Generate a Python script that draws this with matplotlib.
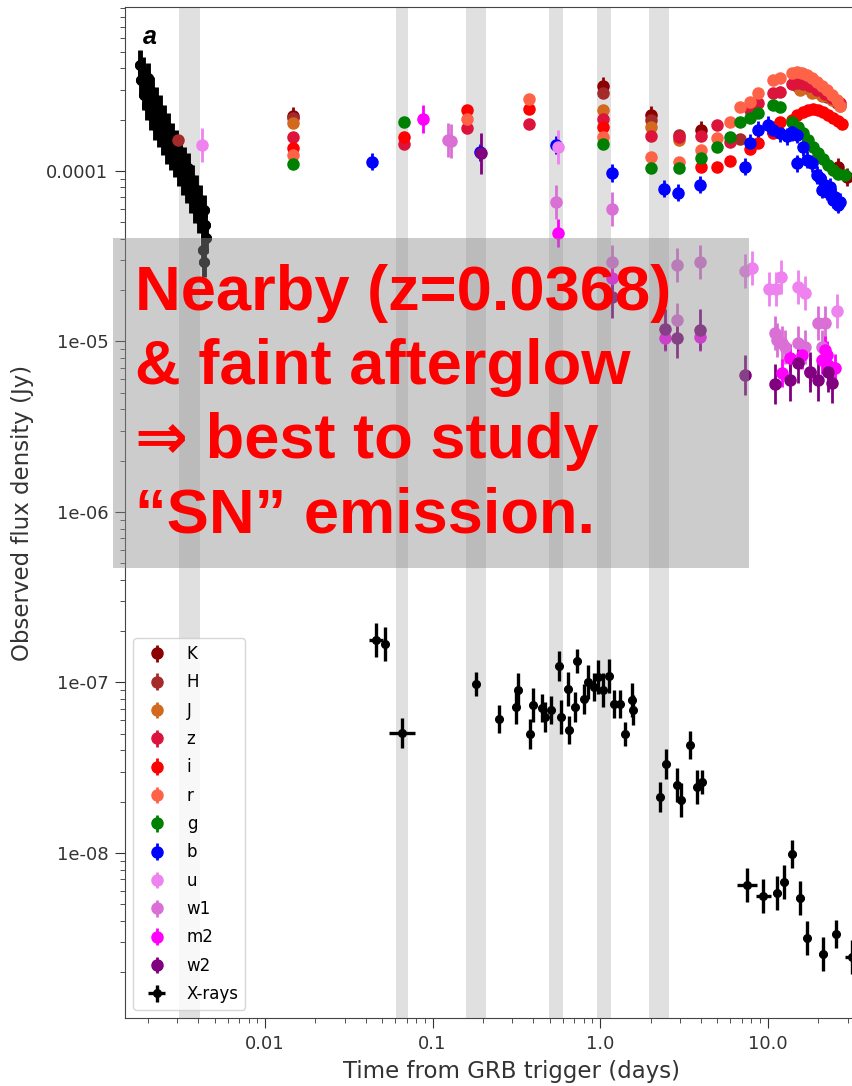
import numpy as np
import matplotlib.pyplot as plt
from matplotlib.patches import Rectangle
from matplotlib.ticker import FuncFormatter

# X-ray light curve: dense early part (first ~0.005 d)
xrt_early_t = [0.00179, 0.00182, 0.00187, 0.00190, 0.00195, 0.00198, 0.00200, 0.00206, 0.00209,
               0.00212, 0.00218, 0.00221, 0.00224, 0.00230, 0.00233, 0.00236, 0.00243, 0.00246,
               0.00250, 0.00257, 0.00260, 0.00264, 0.00271, 0.00275, 0.00279, 0.00286, 0.00290,
               0.00294, 0.00302, 0.00307, 0.00311, 0.00320, 0.00324, 0.00328, 0.00338, 0.00342,
               0.00347, 0.00357, 0.00362, 0.00367, 0.00377, 0.00382, 0.00387, 0.00398, 0.00404,
               0.00409, 0.00421, 0.00426, 0.00432, 0.00438, 0.00444, 0.00426, 0.00432]
xrt_early_f = [4.18e-4, 3.42e-4, 3.81e-4, 2.79e-4, 3.07e-4, 2.44e-4, 3.51e-4, 2.61e-4, 2.13e-4,
               2.91e-4, 2.28e-4, 1.86e-4, 2.54e-4, 2.05e-4, 1.69e-4, 2.28e-4, 1.79e-4, 1.52e-4,
               1.99e-4, 1.63e-4, 1.36e-4, 1.79e-4, 1.42e-4, 1.24e-4, 1.56e-4, 1.33e-4, 1.13e-4,
               1.42e-4, 1.16e-4, 1.01e-4, 1.29e-4, 1.04e-4, 8.86e-5, 1.13e-4, 9.47e-5, 7.95e-5,
               1.04e-4, 8.28e-5, 6.94e-5, 8.86e-5, 7.23e-5, 6.07e-5, 7.74e-5, 6.32e-5, 5.30e-5,
               6.76e-5, 5.52e-5, 4.63e-5, 5.90e-5, 4.82e-5, 4.05e-5, 3.44e-5, 2.93e-5]

# X-ray light curve: later part (errors in dex)
xrt_late_t = [0.0460, 0.0520, 0.0657, 0.1818, 0.2494, 0.3151, 0.3239, 0.3821, 0.3981, 0.4505,
              0.4694, 0.5099, 0.5690, 0.5850, 0.6442, 0.6531, 0.7091, 0.7289, 0.8027, 0.8481,
              0.9208, 0.9729, 1.042, 1.132, 1.212, 1.316, 1.410, 1.553, 1.574, 2.281,
              2.478, 2.883, 3.045, 3.446, 3.795, 4.064, 7.546, 9.400, 11.40, 12.55,
              14.01, 15.63, 17.21, 21.45, 25.64, 31.96]
xrt_late_f = [1.78e-7, 1.68e-7, 5.06e-8, 9.80e-8, 6.11e-8, 7.18e-8, 9.04e-8, 4.99e-8, 7.38e-8, 7.09e-8,
              6.27e-8, 6.90e-8, 1.25e-7, 6.27e-8, 9.16e-8, 5.26e-8, 7.18e-8, 1.34e-7, 8.00e-8, 1.01e-7,
              9.41e-8, 1.08e-7, 9.04e-8, 1.09e-7, 7.48e-8, 7.48e-8, 4.99e-8, 7.89e-8, 6.90e-8, 2.13e-8,
              3.33e-8, 2.50e-8, 2.05e-8, 4.30e-8, 2.44e-8, 2.61e-8, 6.49e-9, 5.59e-9, 5.83e-9, 6.76e-9,
              9.87e-9, 5.45e-9, 3.17e-9, 2.56e-9, 3.35e-9, 2.45e-9]
xrt_late_ferr = [0.10, 0.10, 0.09, 0.07, 0.08, 0.10, 0.10, 0.09, 0.10, 0.08,
                 0.09, 0.08, 0.09, 0.10, 0.10, 0.08, 0.09, 0.07, 0.09, 0.10,
                 0.08, 0.10, 0.10, 0.10, 0.08, 0.08, 0.07, 0.10, 0.09, 0.09,
                 0.09, 0.10, 0.10, 0.08, 0.10, 0.07, 0.10, 0.10, 0.10, 0.10,
                 0.08, 0.10, 0.10, 0.10, 0.08, 0.10]
xrt_late_terr = [0.04, 0.012, 0.075, 0.012, 0.012, 0.012, 0.012, 0.012, 0.012, 0.012,
                 0.012, 0.012, 0.012, 0.012, 0.012, 0.012, 0.012, 0.012, 0.012, 0.012,
                 0.012, 0.012, 0.012, 0.012, 0.012, 0.012, 0.012, 0.012, 0.012, 0.012,
                 0.012, 0.012, 0.012, 0.012, 0.012, 0.012, 0.06, 0.045, 0.025, 0.02,
                 0.02, 0.025, 0.02, 0.025, 0.02, 0.045]

# UVOT / optical / NIR photometry
K_t = [0.0147, 1.042, 2.016, 4.009, 26.36, 29.83]
K_f = [2.10e-4, 3.15e-4, 2.13e-4, 1.74e-4, 1.06e-4, 9.22e-5]

H_t = [0.00302, 0.0147, 1.042, 2.016, 2.962, 6.853, 15.01, 17.21, 19.74, 22.66, 26.00]
H_f = [1.52e-4, 2.05e-4, 2.87e-4, 1.99e-4, 1.63e-4, 1.54e-4, 3.15e-4, 3.07e-4, 2.91e-4, 2.72e-4, 2.51e-4]

J_t = [0.0147, 1.042, 2.016, 2.962, 15.63, 18.44, 21.15, 24.27, 27.09]
J_f = [1.91e-4, 2.28e-4, 1.81e-4, 1.52e-4, 2.99e-4, 2.87e-4, 2.75e-4, 2.61e-4, 2.41e-4]

z_t = [0.0147, 0.0676, 0.1607, 0.3769, 1.042, 2.016, 2.962, 4.009, 4.994, 5.972, 7.864,
       8.776, 10.79, 11.87, 14.01, 15.01, 16.29, 17.93, 19.74, 22.04, 24.27, 27.09]
z_f = [1.58e-4, 1.44e-4, 1.79e-4, 1.89e-4, 2.02e-4, 1.60e-4, 1.58e-4, 1.60e-4, 1.86e-4, 1.48e-4, 2.28e-4,
       2.51e-4, 2.87e-4, 2.92e-4, 3.24e-4, 3.28e-4, 3.24e-4, 3.15e-4, 2.99e-4, 2.83e-4, 2.68e-4, 2.51e-4]

i_t = [0.0147, 0.0676, 0.1607, 0.3769, 1.042, 4.009, 4.994, 5.972, 7.864, 8.776, 10.79, 11.87,
       14.01, 15.01, 16.29, 17.45, 18.69, 20.02, 21.45, 22.97, 24.60, 26.36, 27.85]
i_f = [1.36e-4, 1.58e-4, 2.28e-4, 2.31e-4, 1.81e-4, 1.06e-4, 1.06e-4, 1.14e-4, 1.35e-4, 1.46e-4, 1.67e-4, 1.94e-4,
       1.99e-4, 2.13e-4, 2.22e-4, 2.28e-4, 2.31e-4, 2.28e-4, 2.22e-4, 2.13e-4, 2.05e-4, 1.96e-4, 1.89e-4]

r_t = [0.0147, 0.1607, 0.3769, 1.042, 2.016, 2.962, 4.009, 4.994, 5.972, 6.853, 7.864, 8.776, 10.79,
       11.87, 14.01, 15.01, 16.07, 17.21, 18.44, 19.74, 21.15, 22.66, 24.27, 26.00, 27.09]
r_f = [1.24e-4, 2.02e-4, 2.64e-4, 1.58e-4, 1.21e-4, 1.13e-4, 1.33e-4, 1.56e-4, 1.94e-4, 2.37e-4, 2.54e-4, 2.87e-4, 3.42e-4,
       3.51e-4, 3.77e-4, 3.81e-4, 3.77e-4, 3.66e-4, 3.51e-4, 3.33e-4, 3.15e-4, 2.99e-4, 2.79e-4, 2.61e-4, 2.41e-4]

g_t = [0.0147, 0.0676, 1.042, 2.016, 2.962, 4.009, 4.994, 5.972, 6.853, 7.864, 8.776, 10.79,
       11.87, 14.01, 15.21, 16.29, 17.45, 18.69, 20.02, 21.45, 22.97, 24.60, 26.36, 29.02]
g_f = [1.10e-4, 1.94e-4, 1.44e-4, 1.04e-4, 1.04e-4, 1.19e-4, 1.38e-4, 1.58e-4, 1.94e-4, 2.05e-4, 2.19e-4, 2.44e-4,
       2.37e-4, 1.94e-4, 1.81e-4, 1.67e-4, 1.52e-4, 1.38e-4, 1.28e-4, 1.18e-4, 1.08e-4, 1.01e-4, 9.60e-5, 9.47e-5]

b_t = [0.0435, 0.1921, 0.546, 1.179, 2.411, 2.922, 3.954, 7.340, 7.864, 8.776, 10.07, 10.79, 11.87,
       13.07, 14.01, 15.01, 15.01, 16.29, 17.21, 18.44, 19.74, 20.58, 21.15, 22.04, 22.66, 23.61,
       24.60, 25.29, 26.36, 27.09]
b_f = [1.13e-4, 1.29e-4, 1.42e-4, 9.73e-5, 7.85e-5, 7.43e-5, 8.28e-5, 1.06e-4, 1.46e-4, 1.74e-4, 1.86e-4, 1.74e-4, 1.67e-4,
       1.60e-4, 1.69e-4, 1.63e-4, 1.11e-4, 1.38e-4, 1.16e-4, 1.11e-4, 9.47e-5, 9.10e-5, 7.74e-5, 8.28e-5, 7.53e-5, 8.06e-5,
       6.76e-5, 7.04e-5, 6.32e-5, 6.58e-5]

u_t = [0.00421, 0.5615, 7.340, 8.083, 10.21, 11.24, 12.04, 15.21, 16.75, 26.00]
u_f = [1.42e-4, 1.38e-4, 2.59e-5, 2.70e-5, 2.03e-5, 2.03e-5, 2.39e-5, 2.09e-5, 1.93e-5, 1.51e-5]

w1_t = [0.1238, 0.1280, 0.5462, 1.179, 1.179, 2.883, 3.954, 2.883, 11.09, 11.39, 12.21, 12.72,
        15.21, 16.75, 20.02, 21.15, 22.04]
w1_f = [1.52e-4, 1.50e-4, 6.58e-5, 5.99e-5, 2.93e-5, 2.81e-5, 2.93e-5, 1.34e-5, 1.12e-5, 1.02e-5, 9.80e-6, 9.29e-6,
        9.80e-6, 9.29e-6, 1.28e-5, 9.29e-6, 1.28e-5]

m2_t = [0.0878, 0.5615, 1.179, 2.444, 3.954, 12.21, 13.62, 16.07, 17.93, 21.15, 22.04, 22.66, 22.97, 25.29]
m2_f = [2.02e-4, 4.33e-5, 2.36e-5, 1.05e-5, 1.06e-5, 6.53e-6, 8.00e-6, 8.33e-6, 6.62e-6, 7.79e-6, 8.92e-6,
        8.33e-6, 7.28e-6, 6.99e-6]

w2_t = [0.1950, 1.179, 2.444, 2.883, 3.954, 7.340, 11.09, 13.62, 15.21, 17.93, 20.02, 22.97, 24.27]
w2_f = [1.27e-4, 1.82e-5, 1.18e-5, 1.05e-5, 1.17e-5, 6.36e-6, 5.63e-6, 5.94e-6, 7.48e-6, 6.62e-6, 5.94e-6,
        6.62e-6, 5.71e-6]

band_names = ['K', 'H', 'J', 'z', 'i', 'r', 'g', 'b', 'u', 'w1', 'm2', 'w2']
band_t = [K_t, H_t, J_t, z_t, i_t, r_t, g_t, b_t, u_t, w1_t, m2_t, w2_t]
band_f = [K_f, H_f, J_f, z_f, i_f, r_f, g_f, b_f, u_f, w1_f, m2_f, w2_f]
band_err = [0.05, 0.03, 0.03, 0.03, 0.03, 0.03, 0.03, 0.05, 0.10, 0.10, 0.08, 0.12]  # dex
band_colors = ['darkred', 'brown', 'chocolate', 'crimson', 'red', 'tomato', 'green', 'blue',
               'violet', 'orchid', 'magenta', 'purple']

# epochs of the spectra (days)
spec_epochs = [(0.00307, 0.00409), (0.0605, 0.0714), (0.1585, 0.2086),
               (0.4961, 0.6013), (0.9596, 1.163), (1.961, 2.582)]


def dex_err(f, d):
    f = np.asarray(f, float)
    d = np.asarray(d, float)
    return np.vstack([f * (1 - 10**-d), f * (10**d - 1)])


fig = plt.figure(figsize=(8.52, 10.86), dpi=100)
ax = fig.add_axes([0.1467, 0.0626, 0.9073, 0.931])
ax.set_xscale('log')
ax.set_yscale('log')

for lo, hi in spec_epochs:
    ax.axvspan(lo, hi, color='lightgray', alpha=0.7, lw=0, zorder=0)

ax.errorbar(xrt_early_t, xrt_early_f, xerr=dex_err(xrt_early_t, 0.03), yerr=dex_err(xrt_early_f, 0.09),
            fmt='o', color='k', ms=7, elinewidth=3.5, zorder=2)
xr = ax.errorbar(xrt_late_t, xrt_late_f, xerr=dex_err(xrt_late_t, xrt_late_terr),
                 yerr=dex_err(xrt_late_f, xrt_late_ferr), fmt='o', color='k', ms=5.5, elinewidth=2.4,
                 label='X-rays', zorder=2)

handles = []
for name, t, f, err, c in zip(band_names, band_t, band_f, band_err, band_colors):
    h = ax.errorbar(t, f, yerr=dex_err(f, err), fmt='o', color=c, ms=8, elinewidth=2, label=name, zorder=3)
    handles.append(h)
handles.append(xr)

ax.set_xlim(0.00146, 60)
ax.set_ylim(1.077e-9, 9.16e-4)

fmt = FuncFormatter(lambda v, pos: str(float('%.1e' % v)))
ax.xaxis.set_major_formatter(fmt)
ax.yaxis.set_major_formatter(fmt)
ax.tick_params(which='both', labelsize=13, colors='#333333', labelcolor='#333333')
ax.tick_params(which='major', length=7, pad=5)
ax.tick_params(which='minor', length=3.5)
ax.set_xlabel('Time from GRB trigger (days)', fontsize=16.5, color='#333333', labelpad=5)
ax.set_ylabel('Observed flux density (Jy)', fontsize=16.5, color='#333333', labelpad=9)
for s in ax.spines.values():
    s.set_color('#444444')

ax.legend(handles=handles, loc='lower left', fontsize=12, labelspacing=0.62)
ax.text(0.032, 0.970, 'a', transform=ax.transAxes, fontsize=18, fontweight='bold', fontstyle='italic',
        family=['Liberation Sans', 'DejaVu Sans'], ha='center', va='center')

# highlighted note
fig.add_artist(Rectangle((0.1326, 0.477), 0.7465, 0.304, transform=fig.transFigure,
                         facecolor='#8f8f8f', alpha=0.45, lw=0, zorder=5))
fig.text(0.1585, 0.757, 'Nearby (z=0.0368)\n& faint afterglow\n\u21d2 best to study\n\u201cSN\u201d emission.',
         color='red', fontsize=45.5, fontweight='bold', family=['Liberation Sans', 'DejaVu Sans'],
         ha='left', va='top', linespacing=1.33, zorder=6)

fig.savefig('out.png', dpi=100)
